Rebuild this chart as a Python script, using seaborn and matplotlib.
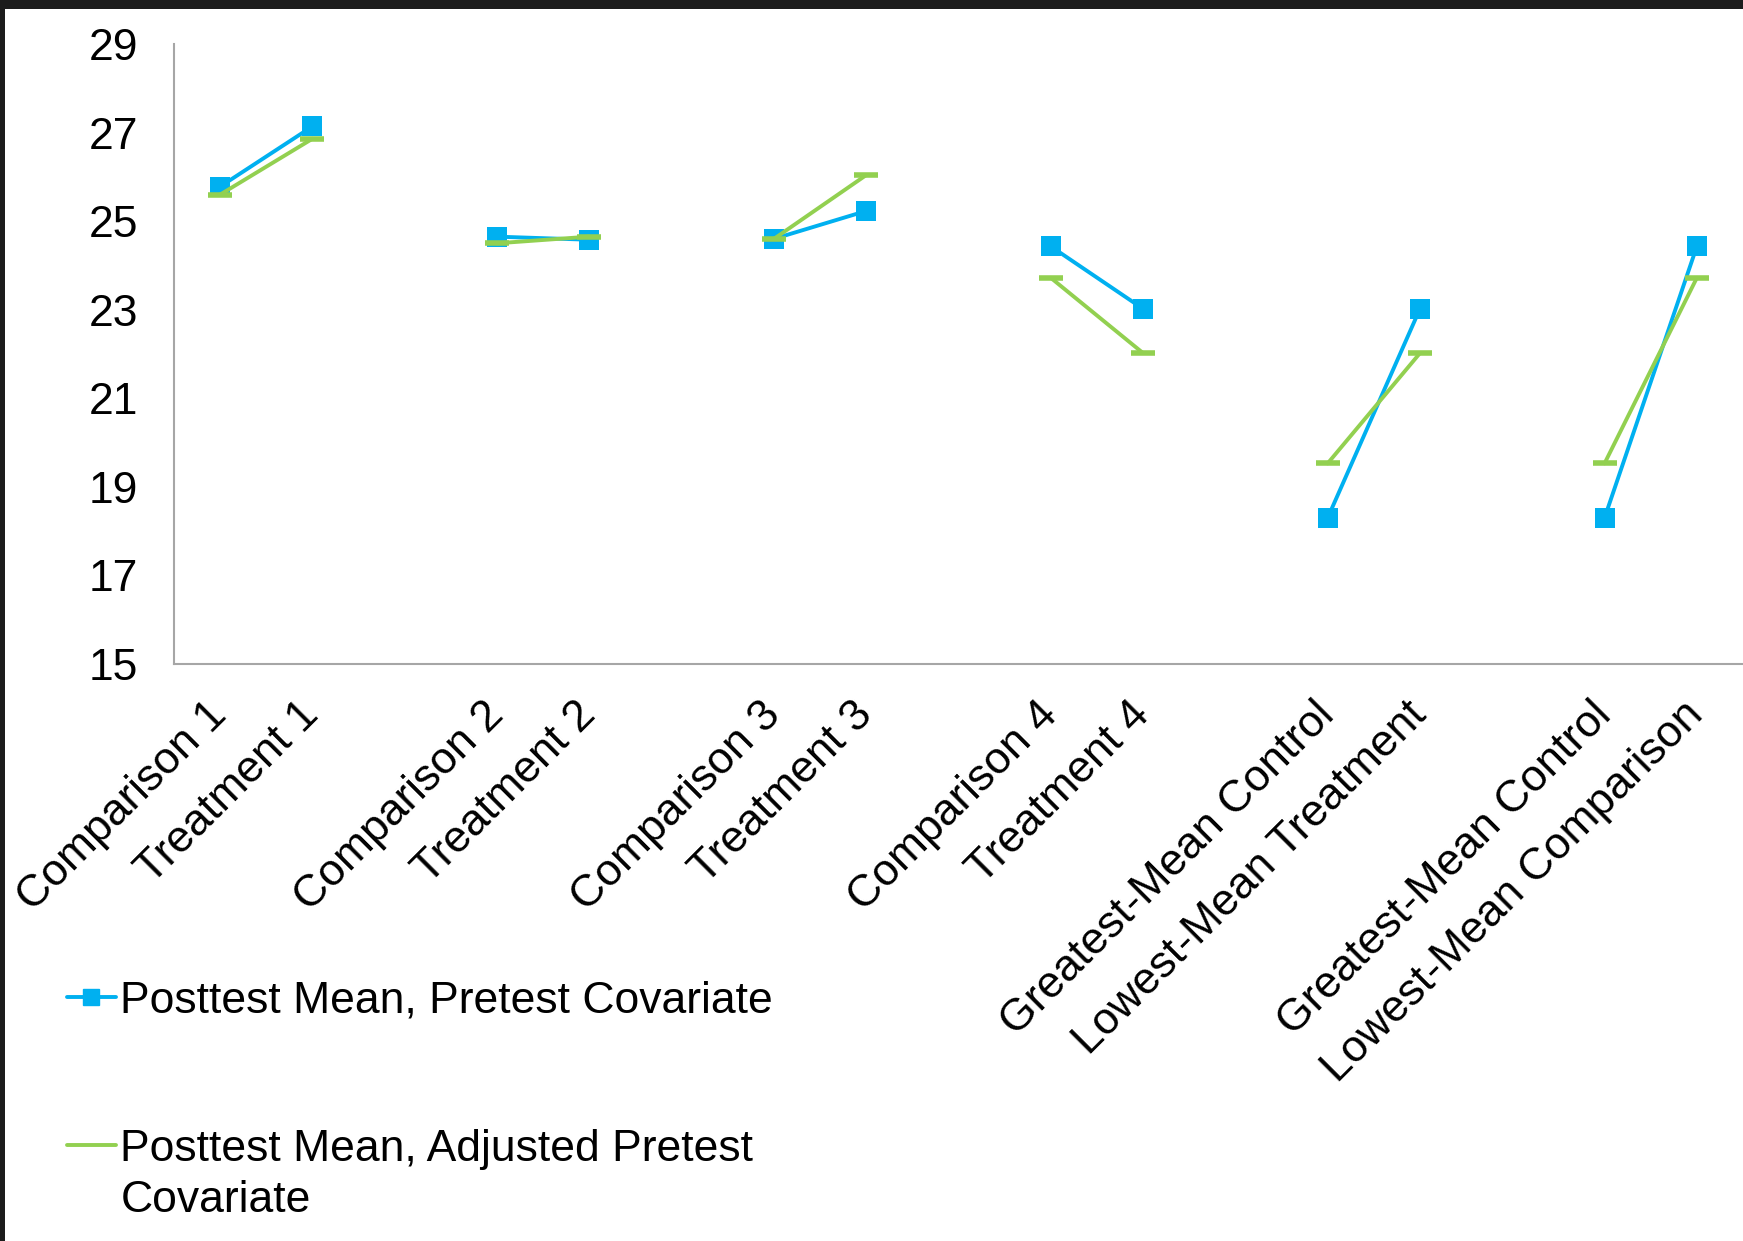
import numpy as np
import pandas as pd
import matplotlib
matplotlib.use("Agg")
import matplotlib.pyplot as plt
from matplotlib.lines import Line2D
from matplotlib.patches import Rectangle
from matplotlib.legend_handler import HandlerLine2D
import seaborn as sns

# Données
categories = ["Comparison 1", "Treatment 1",
              "Comparison 2", "Treatment 2",
              "Comparison 3", "Treatment 3",
              "Comparison 4", "Treatment 4",
              "Greatest-Mean Control", "Lowest-Mean Treatment",
              "Greatest-Mean Control", "Lowest-Mean Comparison"]
pretest_cov = [25.78, 27.14, 24.65, 24.58, 24.60, 25.23,
               24.43, 23.02, 18.30, 23.02, 18.30, 24.43]
adjusted_cov = [25.60, 26.86, 24.50, 24.65, 24.60, 26.04,
                23.72, 22.02, 19.53, 22.02, 19.53, 23.72]
series_names = ["Posttest Mean, Pretest Covariate",
                "Posttest Mean, Adjusted Pretest\nCovariate"]
y_ticks = [15, 17, 19, 21, 23, 25, 27, 29]

BLUE = "#00b0f0"
GREEN = "#92d050"
W, H = 1743, 1241
FS = 32

# Chaque paire est séparée par une catégorie vide
pair = [i // 2 for i in range(len(categories))]
pos = [3 * (i // 2) + i % 2 for i in range(len(categories))]
df = pd.DataFrame({"pos": pos, "pair": pair,
                   "pretest": pretest_cov, "adjusted": adjusted_cov})

sns.set_style("white")
plt.rcParams["font.family"] = ["Liberation Sans", "DejaVu Sans"]
plt.rcParams["text.color"] = "black"
plt.rcParams["xtick.color"] = "black"
plt.rcParams["ytick.color"] = "black"

fig = plt.figure(figsize=(W / 100, H / 100), dpi=100)
fig.patch.set_facecolor("#1c1c1c")
fig.add_artist(Rectangle((5 / W, 0), 1, 1 - 9 / H, transform=fig.transFigure,
                         facecolor="white", edgecolor="none", zorder=-1))

ax = fig.add_axes([174 / W, 1 - 664 / H, 1 - 174 / W, (664 - 44) / H])

sns.lineplot(data=df, x="pos", y="pretest", units="pair", estimator=None,
             color=BLUE, marker="s", markersize=14.5, markeredgecolor=BLUE,
             markeredgewidth=0, linewidth=2.8, sort=True, ax=ax)
sns.lineplot(data=df, x="pos", y="adjusted", units="pair", estimator=None,
             color=GREEN, marker="_", markersize=17, markeredgecolor=GREEN,
             markeredgewidth=4, linewidth=2.8, sort=True, ax=ax)

ax.set_xlim(-0.5, 16.5)
ax.set_ylim(15, 29)
ax.set_yticks(y_ticks)
ax.set_xticks(pos)
ax.set_xticklabels(categories, rotation=45, ha="right", va="center",
                   rotation_mode="anchor")
ax.set_xlabel("")
ax.set_ylabel("")
ax.tick_params(axis="x", length=0, pad=32, labelsize=FS, labelcolor="black")
ax.tick_params(axis="y", length=0, pad=26, labelsize=FS, labelcolor="black")
sns.despine(ax=ax)
for side in ["left", "bottom"]:
    ax.spines[side].set_color("#a6a6a6")
    ax.spines[side].set_linewidth(1.5)


class TopLineHandler(HandlerLine2D):
    # place le symbole au niveau de la première ligne du libellé
    def create_artists(self, legend, orig_handle, xdescent, ydescent,
                       width, height, fontsize, trans):
        artists = super().create_artists(legend, orig_handle, xdescent, ydescent,
                                         width, height, fontsize, trans)
        for a in artists:
            a.set_ydata(np.asarray(a.get_ydata()) + 0.68 * fontsize)
        return artists


handles = [Line2D([], [], color=BLUE, marker="s", markersize=11, lw=2.8),
           Line2D([], [], color=GREEN, lw=2.8)]
leg = fig.legend(handles, series_names, loc="upper left",
                 bbox_to_anchor=(67 / W, 1 - 981 / H), frameon=False,
                 fontsize=FS, handlelength=1.1, handletextpad=0.1,
                 labelspacing=2.4, borderpad=0, borderaxespad=0,
                 handler_map={handles[1]: TopLineHandler()})
for t in leg.get_texts():
    t.set_color("black")
leg.get_texts()[1].set_linespacing(1.32)

plt.savefig("out.png", dpi=100, facecolor=fig.get_facecolor())
